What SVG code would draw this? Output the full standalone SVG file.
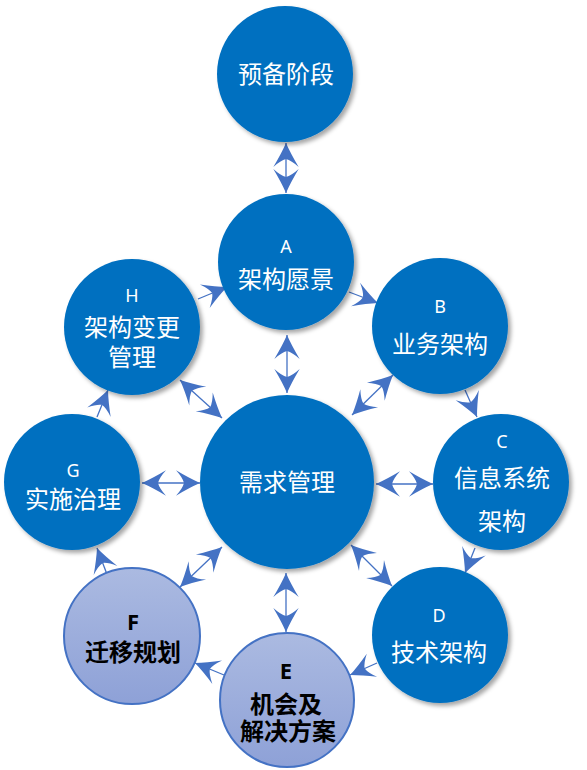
<svg xmlns="http://www.w3.org/2000/svg" width="587" height="770" viewBox="0 0 587 770">
<style>
.blue{fill:#0070c0;filter:url(#sh)}
.light{fill:url(#lg);stroke:#4472c4;stroke-width:2}
.wt{fill:#fff;font-family:"Noto Sans CJK SC","Noto Sans",sans-serif;font-size:24px;text-anchor:middle}
.wl{fill:#fff;font-family:"Noto Sans","Noto Sans CJK SC",sans-serif;font-size:18px;text-anchor:middle}
.bt{fill:#000;font-family:"Noto Sans CJK SC",sans-serif;font-size:24px;font-weight:bold;text-anchor:middle}
.bl{fill:#000;font-family:"Noto Sans","Noto Sans CJK SC",sans-serif;font-size:22px;font-weight:bold;text-anchor:middle}
.c line{stroke:#4472c4;stroke-width:1.3;fill:none}
.s{marker-end:url(#ah)}
.d{marker-start:url(#ah);marker-end:url(#ah)}
</style>
<defs>
<filter id="sh" x="-20%" y="-20%" width="150%" height="150%">
<feDropShadow dx="3" dy="3" stdDeviation="2.2" flood-color="#000" flood-opacity="0.35"/>
</filter>
<linearGradient id="lg" x1="0" y1="0" x2="0" y2="1">
<stop offset="0" stop-color="#abbae1"/>
<stop offset="1" stop-color="#8ea1d7"/>
</linearGradient>
<marker id="ah" markerUnits="userSpaceOnUse" markerWidth="40" markerHeight="40" refX="0" refY="0" viewBox="-25 -15 30 30" orient="auto-start-reverse" overflow="visible">
<path d="M0,0 Q-8,-3.5 -18,-9.5 Q-13,-4 -12,0 Q-13,4 -18,9.5 Q-8,3.5 0,0 Z" fill="#4472c4"/>
</marker>
</defs>
<g class="c" id="connectors">
<line class="d" x1="286" y1="143" x2="286" y2="193"/>
<line class="s" x1="349" y1="292" x2="378" y2="303"/>
<line class="s" x1="198" y1="299" x2="227" y2="287"/>
<line class="s" x1="465" y1="390" x2="477" y2="417"/>
<line class="s" x1="475" y1="548" x2="465" y2="573"/>
<line class="s" x1="377" y1="663" x2="350" y2="675"/>
<line class="s" x1="224" y1="675" x2="195" y2="663"/>
<line class="s" x1="108" y1="577" x2="97" y2="548"/>
<line class="s" x1="97" y1="417" x2="108" y2="390"/>
<line class="d" x1="287" y1="335" x2="287" y2="393"/>
<line class="d" x1="180" y1="380" x2="222" y2="418"/>
<line class="d" x1="393" y1="375" x2="352" y2="415"/>
<line class="d" x1="142" y1="483" x2="200" y2="483"/>
<line class="d" x1="376" y1="484" x2="433" y2="484"/>
<line class="d" x1="180" y1="587" x2="222" y2="547"/>
<line class="d" x1="351" y1="545" x2="392" y2="586"/>
<line class="d" x1="286" y1="573" x2="286" y2="632"/>
</g>
<g id="prep">
<circle class="blue" cx="285" cy="74" r="68"/>
<text class="wt" x="286" y="83">预备阶段</text>
</g>
<g id="A">
<circle class="blue" cx="286" cy="262" r="68"/>
<text class="wl" x="286" y="253">A</text>
<text class="wt" x="286" y="288">架构愿景</text>
</g>
<g id="B">
<circle class="blue" cx="440" cy="326" r="68"/>
<text class="wl" x="440" y="313">B</text>
<text class="wt" x="440" y="353">业务架构</text>
</g>
<g id="C">
<circle class="blue" cx="501" cy="482" r="68"/>
<text class="wl" x="502" y="448">C</text>
<text class="wt" x="502" y="487">信息系统</text>
<text class="wt" x="502" y="530">架构</text>
</g>
<g id="D">
<circle class="blue" cx="440" cy="635" r="68"/>
<text class="wl" x="439" y="622">D</text>
<text class="wt" x="439" y="661">技术架构</text>
</g>
<g id="E">
<circle class="light" cx="287" cy="700" r="67"/>
<text class="bl" x="286" y="679">E</text>
<text class="bt" x="286" y="713">机会及</text>
<text class="bt" x="288" y="740">解决方案</text>
</g>
<g id="F">
<circle class="light" cx="132" cy="636" r="68"/>
<text class="bl" x="133" y="630">F</text>
<text class="bt" x="133" y="661">迁移规划</text>
</g>
<g id="G">
<circle class="blue" cx="72" cy="482" r="68"/>
<text class="wl" x="73" y="477">G</text>
<text class="wt" x="73" y="508">实施治理</text>
</g>
<g id="H">
<circle class="blue" cx="132" cy="327" r="68"/>
<text class="wl" x="132" y="302">H</text>
<text class="wt" x="132" y="336">架构变更</text>
<text class="wt" x="132" y="366">管理</text>
</g>
<g id="req">
<circle class="blue" cx="287" cy="482" r="87"/>
<text class="wt" x="287" y="491">需求管理</text>
</g>
</svg>
